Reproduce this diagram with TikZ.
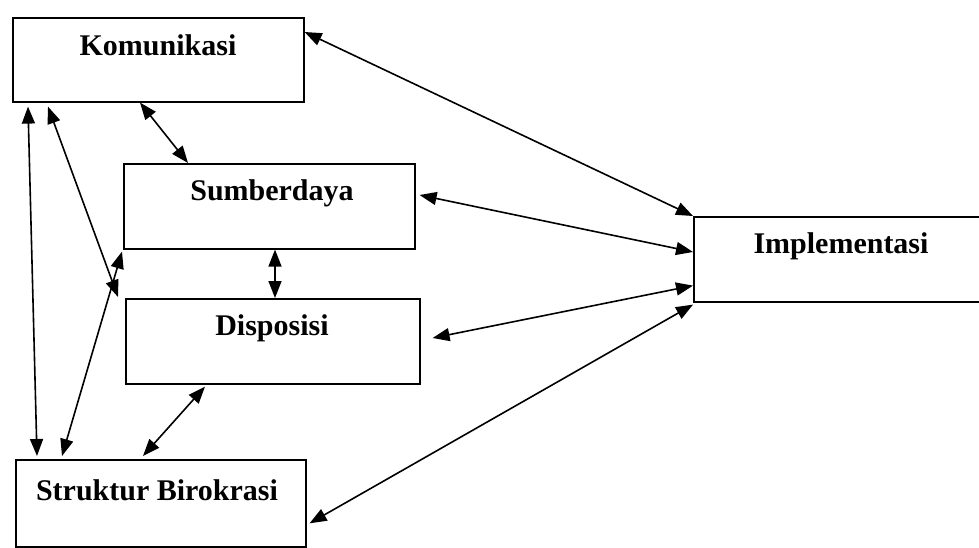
\documentclass[tikz,border=0pt]{standalone}
\usepackage{fontspec}
\setmainfont{Liberation Serif}
\usetikzlibrary{arrows.meta,calc}
\begin{document}
\begin{tikzpicture}[x=1pt,y=-1pt,
  box/.style={draw,line width=1.6pt,rectangle,inner sep=0pt,anchor=north west},
  lbl/.style={font=\fontsize{30}{36}\selectfont\bfseries,inner sep=0pt},
  arr/.style={line width=1.6pt,{Triangle[length=17pt,width=13pt]}-{Triangle[length=17pt,width=13pt]}}]
\useasboundingbox (0,0) rectangle (979,548);
\fill[white] (0,0) rectangle (979,548);
% boxes
\node[box,minimum width=291pt,minimum height=84pt] (kom) at (12,17) {};
\node[box,minimum width=291pt,minimum height=85pt] (sum) at (123,163) {};
\node[box,minimum width=294pt,minimum height=85pt] (dis) at (125,298) {};
\node[box,minimum width=290pt,minimum height=87pt] (str) at (15,459) {};
\node[box,minimum width=300pt,minimum height=85pt] (imp) at (693,216) {};
% labels
\node[lbl] (tkom) at (158,45) {Komunikasi};
\node[lbl] (tsum) at (272,193) {Sumberdaya};
\node[lbl] (tdis) at (272,328) {Disposisi};
\node[lbl] (tstr) at (157,490) {Struktur Birokrasi};
\node[lbl] (timp) at (841,246) {Implementasi};
% connectors
\draw[arr] ([yshift=-15pt]kom.north east) -- (imp.north west);
\draw[arr] ([xshift=128pt]kom.south west) -- ([xshift=65pt]sum.north west);
\draw[arr] ([xshift=4pt,yshift=-32pt]sum.north east) -- ([yshift=-36pt]imp.north west);
\draw[arr] ([xshift=152pt]sum.south west) -- ([xshift=150pt]dis.north west);
\draw[arr] ([xshift=12pt,yshift=-40pt]dis.north east) -- ([yshift=17pt]imp.south west);
\draw[arr] ([xshift=3pt,yshift=-20pt]str.east) -- ([yshift=-2pt]imp.south west);
\draw[arr] ([xshift=80pt,yshift=-2pt]dis.south west) -- ([xshift=128pt,yshift=3pt]str.north west);
\draw[arr] ([xshift=16pt,yshift=-4pt]kom.south west) -- ([xshift=22pt,yshift=3pt]str.north west);
\draw[arr] ([xshift=36pt,yshift=-4pt]kom.south west) -- ([xshift=-7pt,yshift=1pt]dis.north west);
\draw[arr] ([xshift=-1pt,yshift=-2pt]sum.south west) -- ([xshift=47pt,yshift=3pt]str.north west);
\end{tikzpicture}
\end{document}
